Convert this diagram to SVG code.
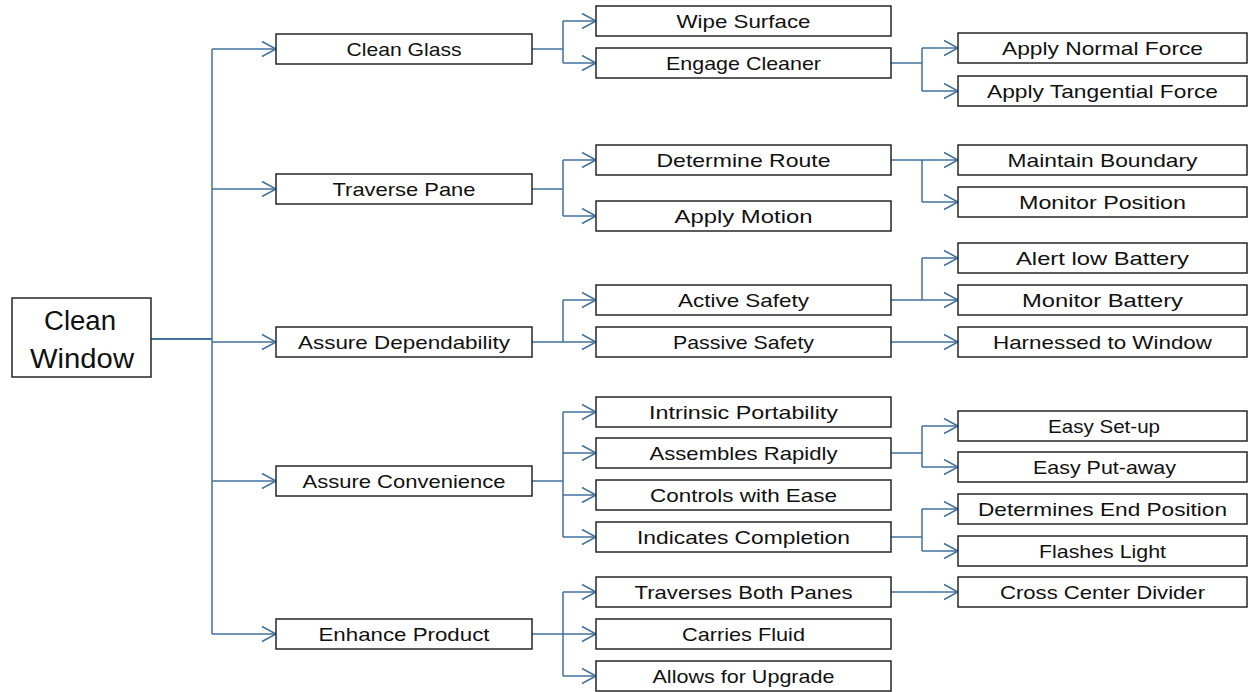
<svg xmlns="http://www.w3.org/2000/svg" width="1252" height="692" viewBox="0 0 1252 692">
<defs>
<marker id="arr" markerUnits="userSpaceOnUse" markerWidth="18" markerHeight="20" viewBox="-16 -10 18 20" refX="0" refY="0" orient="auto">
<path d="M-14,-7.5 L0,0 L-14,7.5" fill="none" stroke="#41719c" stroke-width="1.5"/>
</marker>
</defs>
<style>
rect{fill:#fff;stroke:#262626;stroke-width:1.5}
text{font-family:"Liberation Sans",Arial,sans-serif;font-size:19px;fill:#111;text-anchor:middle}
.root text{font-size:27px}
.c path{fill:none;stroke:#41719c;stroke-width:1.5}
.c path.a{marker-end:url(#arr)}
</style>
<rect x="0" y="0" width="1252" height="692" style="fill:#fff;stroke:none"/>
<g class="c" id="connectors">
<path d="M151,339 H212" style="stroke-width:2"/>
<path d="M212,49 V634"/>
<path class="a" d="M212,49 H276"/>
<path class="a" d="M212,189 H276"/>
<path class="a" d="M212,342 H276"/>
<path class="a" d="M212,481 H276"/>
<path class="a" d="M212,634 H276"/>
<path d="M532,49 H563 M563,21 V63"/>
<path class="a" d="M563,21 H596"/>
<path class="a" d="M563,63 H596"/>
<path d="M532,189 H563 M563,160 V216"/>
<path class="a" d="M563,160 H596"/>
<path class="a" d="M563,216 H596"/>
<path d="M532,342 H563 M563,300 V342"/>
<path class="a" d="M563,300 H596"/>
<path class="a" d="M563,342 H596"/>
<path d="M532,481 H563 M563,412 V537"/>
<path class="a" d="M563,412 H596"/>
<path class="a" d="M563,453 H596"/>
<path class="a" d="M563,495 H596"/>
<path class="a" d="M563,537 H596"/>
<path d="M532,634 H563 M563,592 V676"/>
<path class="a" d="M563,592 H596"/>
<path class="a" d="M563,634 H596"/>
<path class="a" d="M563,676 H596"/>
<path d="M891,63 H922 M922,48 V91"/>
<path class="a" d="M922,48 H958"/>
<path class="a" d="M922,91 H958"/>
<path d="M891,160 H922 M922,160 V202"/>
<path class="a" d="M922,160 H958"/>
<path class="a" d="M922,202 H958"/>
<path d="M891,300 H922 M922,258 V300"/>
<path class="a" d="M922,258 H958"/>
<path class="a" d="M922,300 H958"/>
<path class="a" d="M891,342 H958"/>
<path d="M891,453 H922 M922,426 V467"/>
<path class="a" d="M922,426 H958"/>
<path class="a" d="M922,467 H958"/>
<path d="M891,537 H922 M922,509 V551"/>
<path class="a" d="M922,509 H958"/>
<path class="a" d="M922,551 H958"/>
<path class="a" d="M891,592 H958"/>
</g>
<g id="n-root" class="root">
<rect x="12" y="298" width="139" height="79"/>
<text x="80" y="329.5" textLength="72" lengthAdjust="spacingAndGlyphs">Clean</text>
<text x="82" y="368" textLength="104" lengthAdjust="spacingAndGlyphs">Window</text>
</g>
<g id="n-clean-glass"><rect x="276" y="34" width="256" height="30"/><text x="404" y="56" textLength="115" lengthAdjust="spacingAndGlyphs">Clean Glass</text></g>
<g id="n-traverse-pane"><rect x="276" y="174" width="256" height="30"/><text x="404" y="196" textLength="143" lengthAdjust="spacingAndGlyphs">Traverse Pane</text></g>
<g id="n-assure-dependability"><rect x="276" y="327" width="256" height="30"/><text x="404" y="349" textLength="212" lengthAdjust="spacingAndGlyphs">Assure Dependability</text></g>
<g id="n-assure-convenience"><rect x="276" y="466" width="256" height="30"/><text x="404" y="488" textLength="203" lengthAdjust="spacingAndGlyphs">Assure Convenience</text></g>
<g id="n-enhance-product"><rect x="276" y="619" width="256" height="30"/><text x="404" y="641" textLength="171" lengthAdjust="spacingAndGlyphs">Enhance Product</text></g>
<g id="n-wipe-surface"><rect x="596" y="6" width="295" height="30"/><text x="743.5" y="28" textLength="134" lengthAdjust="spacingAndGlyphs">Wipe Surface</text></g>
<g id="n-engage-cleaner"><rect x="596" y="48" width="295" height="30"/><text x="743.5" y="70" textLength="155" lengthAdjust="spacingAndGlyphs">Engage Cleaner</text></g>
<g id="n-determine-route"><rect x="596" y="145" width="295" height="30"/><text x="743.5" y="167" textLength="174" lengthAdjust="spacingAndGlyphs">Determine Route</text></g>
<g id="n-apply-motion"><rect x="596" y="201" width="295" height="30"/><text x="743.5" y="223" textLength="138" lengthAdjust="spacingAndGlyphs">Apply Motion</text></g>
<g id="n-active-safety"><rect x="596" y="285" width="295" height="30"/><text x="743.5" y="307" textLength="131" lengthAdjust="spacingAndGlyphs">Active Safety</text></g>
<g id="n-passive-safety"><rect x="596" y="327" width="295" height="30"/><text x="743.5" y="349" textLength="141" lengthAdjust="spacingAndGlyphs">Passive Safety</text></g>
<g id="n-intrinsic-portability"><rect x="596" y="397" width="295" height="30"/><text x="743.5" y="419" textLength="189" lengthAdjust="spacingAndGlyphs">Intrinsic Portability</text></g>
<g id="n-assembles-rapidly"><rect x="596" y="438" width="295" height="30"/><text x="743.5" y="460" textLength="188" lengthAdjust="spacingAndGlyphs">Assembles Rapidly</text></g>
<g id="n-controls-with-ease"><rect x="596" y="480" width="295" height="30"/><text x="743.5" y="502" textLength="187" lengthAdjust="spacingAndGlyphs">Controls with Ease</text></g>
<g id="n-indicates-completion"><rect x="596" y="522" width="295" height="30"/><text x="743.5" y="544" textLength="213" lengthAdjust="spacingAndGlyphs">Indicates Completion</text></g>
<g id="n-traverses-both-panes"><rect x="596" y="577" width="295" height="30"/><text x="743.5" y="599" textLength="218" lengthAdjust="spacingAndGlyphs">Traverses Both Panes</text></g>
<g id="n-carries-fluid"><rect x="596" y="619" width="295" height="30"/><text x="743.5" y="641" textLength="123" lengthAdjust="spacingAndGlyphs">Carries Fluid</text></g>
<g id="n-allows-for-upgrade"><rect x="596" y="661" width="295" height="30"/><text x="743.5" y="683" textLength="182" lengthAdjust="spacingAndGlyphs">Allows for Upgrade</text></g>
<g id="n-apply-normal-force"><rect x="958" y="33" width="289" height="30"/><text x="1102.5" y="55" textLength="201" lengthAdjust="spacingAndGlyphs">Apply Normal Force</text></g>
<g id="n-apply-tangential-force"><rect x="958" y="76" width="289" height="30"/><text x="1102.5" y="98" textLength="231" lengthAdjust="spacingAndGlyphs">Apply Tangential Force</text></g>
<g id="n-maintain-boundary"><rect x="958" y="145" width="289" height="30"/><text x="1102.5" y="167" textLength="190" lengthAdjust="spacingAndGlyphs">Maintain Boundary</text></g>
<g id="n-monitor-position"><rect x="958" y="187" width="289" height="30"/><text x="1102.5" y="209" textLength="167" lengthAdjust="spacingAndGlyphs">Monitor Position</text></g>
<g id="n-alert-low-battery"><rect x="958" y="243" width="289" height="30"/><text x="1102.5" y="265" textLength="173" lengthAdjust="spacingAndGlyphs">Alert low Battery</text></g>
<g id="n-monitor-battery"><rect x="958" y="285" width="289" height="30"/><text x="1102.5" y="307" textLength="161" lengthAdjust="spacingAndGlyphs">Monitor Battery</text></g>
<g id="n-harnessed-to-window"><rect x="958" y="327" width="289" height="30"/><text x="1102.5" y="349" textLength="219" lengthAdjust="spacingAndGlyphs">Harnessed to Window</text></g>
<g id="n-easy-set-up"><rect x="958" y="411" width="289" height="30"/><text x="1104" y="433" textLength="112" lengthAdjust="spacingAndGlyphs">Easy Set-up</text></g>
<g id="n-easy-put-away"><rect x="958" y="452" width="289" height="30"/><text x="1104.5" y="474" textLength="143" lengthAdjust="spacingAndGlyphs">Easy Put-away</text></g>
<g id="n-determines-end-position"><rect x="958" y="494" width="289" height="30"/><text x="1102.5" y="516" textLength="249" lengthAdjust="spacingAndGlyphs">Determines End Position</text></g>
<g id="n-flashes-light"><rect x="958" y="536" width="289" height="30"/><text x="1102.5" y="558" textLength="127" lengthAdjust="spacingAndGlyphs">Flashes Light</text></g>
<g id="n-cross-center-divider"><rect x="958" y="577" width="289" height="30"/><text x="1102.5" y="599" textLength="205" lengthAdjust="spacingAndGlyphs">Cross Center Divider</text></g>
</svg>
